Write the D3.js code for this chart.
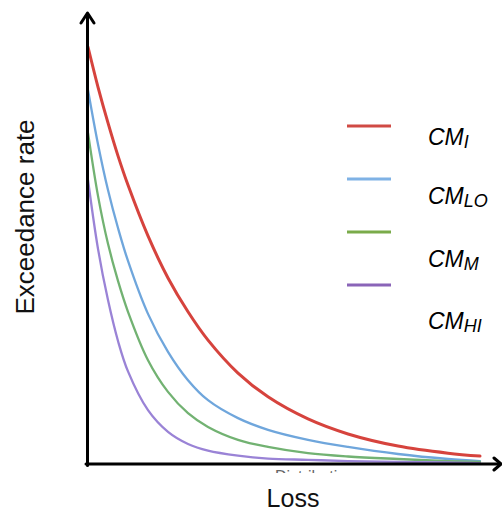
<!DOCTYPE html>
<html>
<head>
<meta charset="utf-8">
<script src="https://cdn.jsdelivr.net/npm/d3@7"></script>
<style>
  html, body { margin: 0; padding: 0; background: #fff; }
  svg { display: block; font-family: "Liberation Sans", Arial, sans-serif; }
</style>
</head>
<body>
<svg id="chart" width="502" height="511"></svg>
<script>
// loss values (arbitrary units, no ticks shown)
const loss = [0, 2.5, 5, 7.5, 10, 15, 20, 25, 30, 37.5, 45, 55, 65, 77.5, 90, 98];

// exceedance rate for each model (relative units)
const cmI  = [1.0, 0.904, 0.818, 0.739, 0.669, 0.547, 0.446, 0.365, 0.297, 0.218, 0.161, 0.108, 0.072, 0.043, 0.026, 0.019];
const cmLO = [0.897, 0.767, 0.657, 0.566, 0.487, 0.360, 0.269, 0.201, 0.153, 0.110, 0.082, 0.058, 0.041, 0.024, 0.012, 0.007];
const cmM  = [0.794, 0.643, 0.528, 0.439, 0.365, 0.249, 0.173, 0.122, 0.089, 0.058, 0.041, 0.026, 0.018, 0.012, 0.007, 0.005];
const cmHI = [0.681, 0.516, 0.393, 0.295, 0.222, 0.129, 0.077, 0.048, 0.032, 0.020, 0.013, 0.010, 0.007, 0.005, 0.004, 0.002];

const seriesNames = ["I", "LO", "M", "HI"];
const seriesValues = [cmI, cmLO, cmM, cmHI];
const curveColors = ["#d6433d", "#6fa6dc", "#72b272", "#9a83d6"];
const legendColors = ["#d04a44", "#7fb2e5", "#7aab4a", "#8a64b8"];

const svg = d3.select("#chart");

const x = d3.scaleLinear().domain([0, 100]).range([88, 488]);
const y = d3.scaleLinear().domain([0, 1]).range([464, 47]);

// curves
const line = d3.line()
  .x((d) => x(d[0]))
  .y((d) => y(d[1]))
  .curve(d3.curveCatmullRom.alpha(0.5));

svg.append("g")
  .selectAll("path")
  .data(seriesValues)
  .join("path")
  .attr("d", (vals) => line(vals.map((v, i) => [loss[i], v])))
  .attr("fill", "none")
  .attr("stroke", (_d, i) => curveColors[i])
  .attr("stroke-width", (_d, i) => i === 0 ? 3 : 2.3)
  .attr("stroke-linecap", "round");

// faint clipped label under the axis
svg.append("clipPath").attr("id", "clip-under")
  .append("rect").attr("x", 260).attr("y", 470).attr("width", 120).attr("height", 3);
svg.append("text")
  .attr("clip-path", "url(#clip-under)")
  .attr("x", 275).attr("y", 481.5)
  .attr("font-size", 16)
  .attr("fill", "#666")
  .text("Distribution");

// axes with arrow heads
const x0 = x(0) - 0.5, y0 = y(0);
const axes = svg.append("g")
  .attr("stroke", "#000")
  .attr("stroke-width", 3)
  .attr("fill", "none")
  .attr("stroke-linecap", "round")
  .attr("stroke-linejoin", "round");
axes.append("line").attr("x1", x0).attr("y1", y0 + 1.5).attr("x2", x0).attr("y2", 14);
axes.append("line").attr("x1", x0 - 1.5).attr("y1", y0).attr("x2", 500).attr("y2", y0);
axes.append("path").attr("d", `M${x0 - 6.5},23 L${x0},13 L${x0 + 6.5},23`);
axes.append("path").attr("d", `M${494},${y0 - 6} L${501},${y0} L${494},${y0 + 6}`);

// axis titles
svg.append("text")
  .attr("transform", "translate(34,217) rotate(-90)")
  .attr("text-anchor", "middle")
  .attr("font-size", 26)
  .attr("fill", "#111")
  .text("Exceedance rate");

svg.append("text")
  .attr("x", 293).attr("y", 507)
  .attr("text-anchor", "middle")
  .attr("font-size", 25)
  .attr("fill", "#111")
  .text("Loss");

// legend
const legendLineY = [126, 179, 232, 285];
const legendTextY = [145, 204, 267, 329];
const legend = svg.append("g");
legend.selectAll("line")
  .data(seriesNames)
  .join("line")
  .attr("x1", 347).attr("x2", 391)
  .attr("y1", (_d, i) => legendLineY[i])
  .attr("y2", (_d, i) => legendLineY[i])
  .attr("stroke", (_d, i) => legendColors[i])
  .attr("stroke-width", 3);

const labels = legend.selectAll("text")
  .data(seriesNames)
  .join("text")
  .attr("x", 428)
  .attr("y", (_d, i) => legendTextY[i])
  .attr("font-size", 23)
  .attr("font-style", "italic")
  .attr("fill", "#000");
labels.append("tspan").text("CM");
labels.append("tspan")
  .attr("font-size", 18)
  .attr("dy", 3)
  .text((d) => d);
</script>
</body>
</html>
